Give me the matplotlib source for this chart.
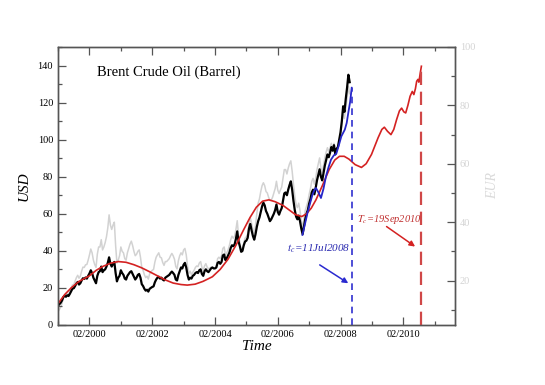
import numpy as np
import matplotlib
matplotlib.use("Agg")
import matplotlib.pyplot as plt
from matplotlib.ticker import FixedLocator, MultipleLocator

plt.rcParams["font.family"] = ["Liberation Serif", "DejaVu Serif"]
plt.rcParams["mathtext.fontset"] = "stix"

# ---- data (decimal years) ------------------------------------------------
# Brent price in USD, two readings per month, from Feb 1999
usd_1999 = [10.5, 11.2, 12.0, 13.2, 15.0, 15.8, 15.2, 16.0, 15.6, 16.8, 18.2,
            19.6, 19.8, 21.0, 22.4, 23.2, 21.8, 22.5, 24.0, 25.2, 24.8, 25.6]
usd_2000 = [25.0, 26.5, 27.8, 29.5, 28.0, 25.5, 24.0, 22.5, 26.5, 28.5, 29.0, 31.5,
            28.5, 29.5, 30.0, 31.5, 33.5, 36.5, 33.0, 31.5, 33.0, 34.0, 28.0, 23.5]
usd_2001 = [25.5, 26.5, 29.5, 28.0, 27.0, 25.0, 24.5, 26.5, 27.5, 28.5, 29.0, 27.5,
            26.0, 24.5, 25.5, 27.0, 27.5, 25.5, 22.0, 21.0, 19.5, 18.5, 19.0, 18.0]
usd_2002 = [19.5, 20.0, 20.5, 20.8, 23.0, 24.5, 25.5, 26.0, 25.0, 25.5, 24.5, 24.0,
            25.5, 26.0, 26.5, 27.0, 28.0, 28.8, 28.0, 27.0, 24.5, 24.0, 27.0, 29.0]
usd_2003 = [31.0, 30.5, 32.5, 33.5, 31.0, 27.0, 24.5, 25.5, 25.0, 26.5, 27.0, 28.0,
            28.5, 28.0, 29.5, 30.0, 27.5, 26.5, 29.0, 30.0, 29.0, 28.5, 29.5, 30.5]
usd_2004 = [31.0, 30.5, 30.5, 31.0, 33.5, 34.0, 33.0, 34.0, 37.5, 38.0, 35.0, 36.0,
            37.5, 39.0, 41.5, 43.0, 42.5, 43.5, 46.5, 50.5, 45.0, 42.5, 39.5, 40.0]
usd_2005 = [43.0, 45.0, 45.5, 47.0, 52.0, 54.5, 51.0, 48.0, 46.0, 49.0, 53.0, 56.0,
            58.0, 61.0, 64.0, 66.0, 64.5, 61.5, 60.0, 58.0, 56.0, 57.0, 58.5, 60.0]
usd_2006 = [62.0, 65.0, 61.0, 59.5, 61.5, 63.0, 67.0, 71.0, 71.5, 70.0, 73.0, 75.5,
            77.5, 73.0, 67.0, 62.0, 58.5, 57.0, 59.0, 56.0, 52.0, 49.0, 53.0, 57.0]
usd_2007 = [60.0, 62.0, 65.5, 68.0, 71.5, 73.0, 70.5, 74.0, 78.0, 81.0, 84.0, 80.0,
            78.0, 82.0, 86.0, 89.0, 92.0, 90.5, 93.0, 96.0, 94.0, 97.0, 92.0, 95.0]
usd_2008 = [96.0, 100.0, 104.0, 110.0, 118.0, 115.0, 122.0, 128.0, 135.0, 131.0]

# Brent price in EUR (right axis), same dates
eur_1999 = [9.4, 10.1, 11.0, 12.2, 14.0, 14.9, 14.5, 15.4, 15.2, 16.3, 17.5,
            18.5, 18.6, 19.8, 21.0, 21.8, 20.8, 21.5, 23.2, 24.6, 24.5, 25.4]
eur_2000 = [25.5, 27.0, 28.8, 30.8, 29.5, 27.0, 25.5, 24.5, 29.0, 31.5, 31.5, 34.0,
            30.5, 31.5, 33.0, 35.0, 38.0, 42.5, 39.0, 37.5, 39.0, 40.0, 32.0, 26.0]
eur_2001 = [27.0, 28.5, 31.5, 30.0, 29.5, 27.5, 27.0, 29.5, 31.0, 32.5, 33.5, 32.0,
            30.0, 28.5, 29.0, 30.0, 30.5, 28.0, 24.5, 23.5, 22.0, 21.0, 21.5, 20.5]
eur_2002 = [22.3, 23.0, 23.5, 23.8, 26.3, 28.0, 28.8, 29.5, 28.0, 27.8, 26.2, 25.2,
            26.5, 26.5, 27.0, 27.5, 28.5, 29.3, 28.5, 27.3, 24.8, 24.0, 26.8, 28.5]
eur_2003 = [29.5, 28.8, 30.5, 31.0, 28.8, 25.0, 22.5, 23.2, 22.0, 22.8, 23.5, 24.5,
            25.0, 24.8, 26.0, 26.5, 24.5, 23.5, 25.0, 25.8, 24.6, 24.0, 24.2, 24.6]
eur_2004 = [24.6, 24.2, 24.2, 25.0, 27.5, 28.0, 27.5, 28.5, 31.0, 31.5, 28.8, 29.5,
            30.5, 32.0, 34.0, 35.2, 34.5, 35.2, 37.5, 40.5, 35.5, 33.0, 29.8, 29.8]
eur_2005 = [32.8, 34.5, 35.0, 36.0, 39.5, 41.5, 39.5, 37.5, 36.0, 39.0, 43.0, 46.5,
            48.0, 50.5, 52.5, 53.5, 52.5, 50.5, 50.0, 48.5, 47.5, 47.5, 48.5, 50.0]
eur_2006 = [51.5, 54.0, 51.0, 49.8, 51.0, 52.0, 55.0, 58.0, 58.0, 56.5, 58.5, 60.0,
            61.0, 57.5, 53.0, 49.0, 46.0, 45.0, 46.5, 44.0, 40.5, 38.0, 41.0, 44.0]
eur_2007 = [45.5, 47.0, 49.5, 51.5, 54.0, 55.0, 53.0, 55.0, 58.0, 60.0, 62.0, 58.5,
            57.0, 59.5, 62.0, 64.0, 65.5, 64.0, 65.5, 67.0, 65.0, 67.0, 63.5, 65.5]
eur_2008 = [65.5, 68.0, 70.0, 73.5, 78.0, 75.5, 79.0, 82.5, 86.5, 84.0]

usd = sum([usd_1999, usd_2000, usd_2001, usd_2002, usd_2003, usd_2004,
           usd_2005, usd_2006, usd_2007, usd_2008], [])
eur = sum([eur_1999, eur_2000, eur_2001, eur_2002, eur_2003, eur_2004,
           eur_2005, eur_2006, eur_2007, eur_2008], [])
dates = 1999 + 2 / 24 + np.arange(len(usd)) / 24

# long-term fit (red) and short-term fit (blue)
red_t = [1999.08, 1999.3, 1999.5, 1999.75, 2000.08, 2000.3, 2000.5, 2000.75,
         2001.0, 2001.25, 2001.5, 2001.75, 2002.0, 2002.25, 2002.5, 2002.75,
         2003.0, 2003.2, 2003.45, 2003.7, 2004.0, 2004.25, 2004.5, 2004.75,
         2005.0, 2005.2, 2005.4, 2005.6, 2005.8, 2006.0, 2006.25, 2006.45,
         2006.65, 2006.85, 2007.0, 2007.15, 2007.3, 2007.5, 2007.72, 2007.9,
         2008.05, 2008.2, 2008.35, 2008.55, 2008.75, 2008.9, 2009.07, 2009.28,
         2009.4, 2009.48, 2009.58, 2009.69, 2009.78, 2009.87, 2009.96, 2010.03,
         2010.1, 2010.16, 2010.23, 2010.3, 2010.37, 2010.42, 2010.47, 2010.51,
         2010.55, 2010.58, 2010.62, 2010.66]
red_v = [11.5, 16.5, 20.0, 23.5, 26.5, 29.5, 31.5, 33.3,
         34.2, 33.8, 32.5, 30.8, 28.7, 26.5, 24.3, 22.6,
         21.8, 21.5, 22.0, 23.5, 26.0, 30.0, 35.5, 43.0,
         51.5, 58.0, 63.5, 66.8, 67.5, 66.5, 64.5, 62.0,
         59.5, 58.5, 60.0, 63.0, 67.5, 75.0, 83.8, 89.0,
         91.0, 91.0, 89.5, 86.5, 85.0, 87.0, 92.0, 101.0,
         105.5, 106.7, 104.5, 102.7, 105.5, 110.8, 115.5, 117.0,
         115.0, 114.4, 118.5, 123.4, 126.0, 124.3, 127.5, 131.5,
         132.5, 131.0, 135.5, 139.6]

blue_t = [2006.87, 2006.95, 2007.03, 2007.11, 2007.19, 2007.25, 2007.3, 2007.38,
          2007.46, 2007.54, 2007.62, 2007.7, 2007.78, 2007.87, 2007.95, 2008.03,
          2008.11, 2008.22, 2008.28, 2008.33, 2008.39, 2008.44]
blue_v = [48.6, 54.5, 60.4, 65.5, 70.3, 72.8, 73.9, 71.5,
          68.5, 73.5, 80.2, 85.0, 89.2, 91.5, 92.5, 97.0,
          101.8, 105.4, 109.0, 114.4, 120.5, 128.0]

tc_short = 2008.45   # 11 Jul 2008
tc_long = 2010.66    # 19 Sep 2010

xticks = [2000 + 1 / 12 + 2 * k for k in range(6)]
xlabels = ["02/2000", "02/2002", "02/2004", "02/2006", "02/2008", "02/2010"]

# ---- figure ---------------------------------------------------------------
fig = plt.figure(figsize=(5.45, 3.85), dpi=100)
ax = fig.add_axes([0.1064, 0.156, 0.7284, 0.722])
ax2 = ax.twinx()
ax.set_zorder(ax2.get_zorder() + 1)
ax.patch.set_visible(False)

frame = "#555555"
ax2.plot(dates, eur, color="#d2d2d2", lw=1.1)
ax.plot(dates, usd, color="black", lw=1.6)
ax.plot(red_t, red_v, color="#d42222", lw=1.2, solid_joinstyle="round")
ax.plot(blue_t, blue_v, color="#2626c8", lw=1.3, solid_joinstyle="round")

ax.plot([tc_short, tc_short], [0, blue_v[-1]], color="#3030d0", lw=1.2,
        dashes=(4, 3))
ax.plot([tc_long, tc_long], [0, red_v[-1]], color="#d04848", lw=1.6,
        dashes=(6, 3))

ax.set_xlim(1999.08, 2011.73)
ax.set_ylim(0, 150)
ax2.set_ylim(4.8, 100)

ax.set_xticks(xticks)
ax.set_xticklabels(xlabels)
ax.xaxis.set_minor_locator(FixedLocator([1999 + 1 / 12 + 2 * k for k in range(7)]))
ax.yaxis.set_major_locator(FixedLocator(range(0, 141, 20)))
ax.yaxis.set_minor_locator(MultipleLocator(10))
ax2.yaxis.set_major_locator(FixedLocator(range(20, 101, 20)))
ax2.yaxis.set_minor_locator(FixedLocator(range(10, 100, 20)))

ax.tick_params(which="both", direction="in", top=True, right=False,
               color=frame, labelsize=7.5, width=0.9)
ax.tick_params(which="major", length=6)
ax.tick_params(which="minor", length=3)
ax2.tick_params(which="both", direction="in", color=frame, labelsize=7.5,
                labelcolor="#d4d4d4", width=0.9)
ax2.tick_params(which="major", length=6)
ax2.tick_params(which="minor", length=3)
for a in (ax, ax2):
    for s in a.spines.values():
        s.set_color(frame)
        s.set_linewidth(1.0)

ax.set_ylabel("USD", fontsize=11, style="italic")
ax.yaxis.set_label_coords(-0.07, 0.5)
ax.set_xlabel("Time", fontsize=11, style="italic", labelpad=1)
ax2.set_ylabel("EUR", fontsize=10, style="italic", color="#dadada", labelpad=8)

ax.text(0.098, 0.91, "Brent Crude Oil (Barrel)", transform=ax.transAxes,
        fontsize=10.5, va="center", ha="left")

ax.text(2006.37, 41, r"$t_c$=11Jul2008", color="#2a2ab0", fontsize=8,
        style="italic", ha="left", va="center")
ax.annotate("", xy=(2008.33, 22.5), xytext=(2007.42, 32.4),
            arrowprops=dict(arrowstyle="-|>", color="#2a2ad0", lw=1.1,
                            mutation_scale=8, shrinkA=0, shrinkB=0))
ax.text(2008.6, 57, r"$T_c$=19Sep2010", color="#c03030", fontsize=7.5,
        style="italic", ha="left", va="center")
ax.annotate("", xy=(2010.46, 42.3), xytext=(2009.55, 53.1),
            arrowprops=dict(arrowstyle="-|>", color="#d42222", lw=1.1,
                            mutation_scale=8, shrinkA=0, shrinkB=0))

fig.savefig("out.png", dpi=100)
